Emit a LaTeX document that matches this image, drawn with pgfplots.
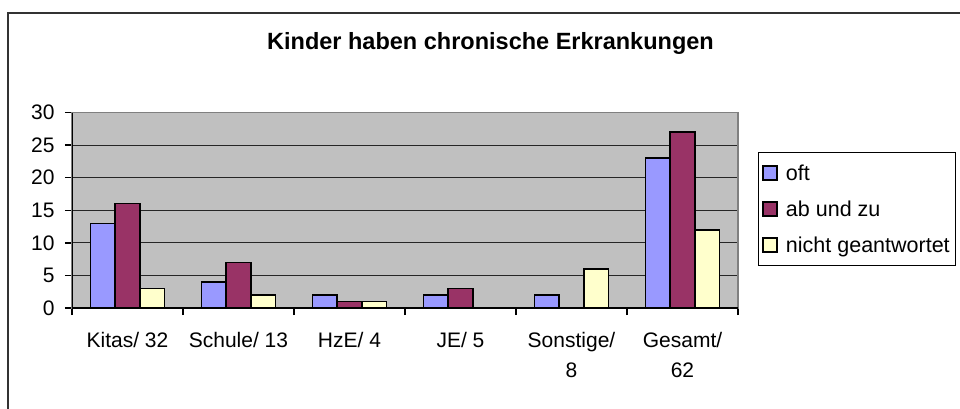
\documentclass[border=0pt]{standalone}
\usepackage{fontspec}
\setmainfont{Liberation Sans}
\usepackage{pgfplots}
\pgfplotsset{compat=1.18}
\definecolor{oft}{HTML}{9999FF}
\definecolor{abz}{HTML}{993366}
\definecolor{nicht}{HTML}{FFFFCC}
\definecolor{plotbg}{HTML}{C0C0C0}
\definecolor{framegray}{HTML}{808080}
\begin{document}
\begin{tikzpicture}[x=1pt,y=1pt]
\useasboundingbox (0,0) rectangle (960,408);
\draw[line width=1.5pt, black!80] (8,-2) -- (8,395) -- (962,395);
\node[font=\fontsize{23.5}{28}\selectfont\bfseries, anchor=base, inner sep=0pt] at (490.5,359) {Kinder haben chronische Erkrankungen};
\begin{axis}[
  at={(72pt,100pt)}, anchor=south west,
  scale only axis, width=666pt, height=195.5pt,
  xmin=-0.5, xmax=5.5, ymin=0, ymax=30,
  ytick={0,5,...,30},
  xtick={0,...,5},
  xtick pos=lower, ytick pos=left,
  xticklabels={Kitas/ 32, Schule/ 13, HzE/ 4, JE/ 5, {Sonstige/\\8}, {Gesamt/\\62}},
  minor xtick={-0.5,0.5,...,5.5},
  major x tick style={draw=none},
  minor x tick style={draw=black, line width=1.5pt},
  minor tick length=7pt,
  major tick length=7pt,
  tick align=outside,
  ytick style={draw=black, line width=1.5pt},
  ymajorgrids, major grid style={black!85, line width=1pt},
  axis background/.style={fill=plotbg},
  axis line style={draw=framegray, line width=1.5pt},
  /pgf/number format/assume math mode=true,
  ticklabel style={font=\fontsize{21}{29.5}\selectfont},
  xticklabel style={align=center, yshift=-14pt},
  yticklabel style={xshift=-7pt},
  ybar=0pt, bar width=24.67pt,
  every axis plot/.append style={draw=black, line width=1.5pt},
  legend style={at={(1.030,0.798)}, anchor=north west, draw=black, line width=1pt,
    fill=white, font=\fontsize{21.5}{25}\selectfont, row sep=15pt, inner xsep=4pt, inner ysep=10pt},
  legend cell align=left,
  legend image code/.code={\draw[#1, line width=1.5pt] (2pt,-7pt) rectangle (16pt,7pt); \path (22pt,0pt);},
]
\addplot[fill=oft] coordinates {(0,13) (1,4) (2,2) (3,2) (4,2) (5,23)};
\addplot[fill=abz] coordinates {(0,16) (1,7) (2,1) (3,3) (5,27)};
\addplot[fill=nicht] coordinates {(0,3) (1,2) (2,1) (4,6) (5,12)};
\draw[black, line width=1.5pt] (rel axis cs:0,1) -- (rel axis cs:0,0) -- (rel axis cs:1,0);
\legend{oft, ab und zu, nicht geantwortet}
\end{axis}
\end{tikzpicture}
\end{document}
